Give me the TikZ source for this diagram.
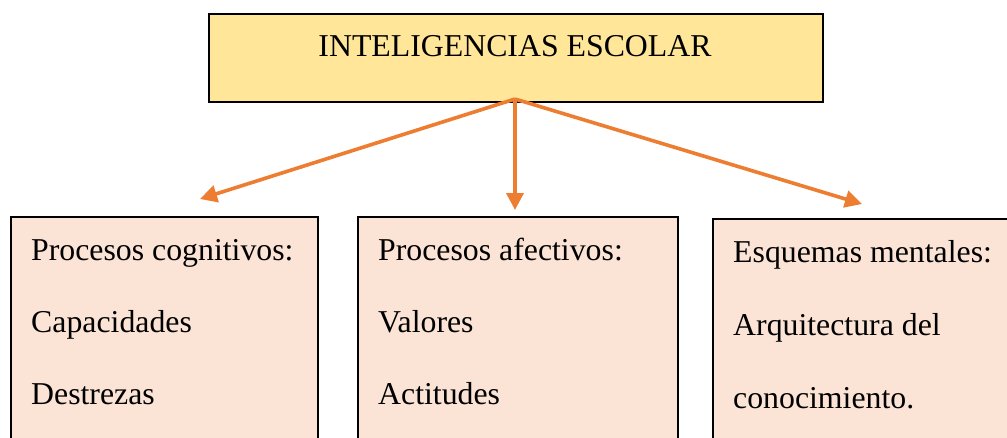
\documentclass[tikz,border=0pt]{standalone}
\usepackage{fontspec}
\setmainfont{Liberation Serif}
\usetikzlibrary{arrows.meta}
\definecolor{topfill}{HTML}{FFE699}
\definecolor{boxfill}{HTML}{FBE4D5}
\definecolor{arr}{HTML}{ED7D31}
\begin{document}
\begin{tikzpicture}[x=1pt,y=-1pt,
  box/.style={draw=black, line width=1.5pt, fill=boxfill, anchor=north west, inner sep=0pt, minimum height=260pt},
  txt/.style={anchor=base west, inner sep=0pt, font=\fontsize{31.8}{38}\selectfont},
  arrowline/.style={draw=arr, line width=3.6pt, -{Triangle[length=17pt,width=17pt]}}]
\useasboundingbox (0,0) rectangle (1007,437);
\clip (0,0) rectangle (1007,437);
\node[draw=black, line width=2pt, fill=topfill, minimum width=614pt, minimum height=88pt, anchor=north west, inner sep=0pt] (top) at (208,13) {};
\node[anchor=base, inner sep=0pt, font=\fontsize{31.8}{38}\selectfont] (toptxt) at (515,56) {INTELIGENCIAS ESCOLAR};

\node[box, minimum width=307pt] (b1) at (10,216) {};
\node[box, minimum width=320pt] (b2) at (357,216) {};
\node[box, minimum width=340pt] (b3) at (712,218) {};

\node[txt] (t11) at (31,260) {Procesos cognitivos:};
\node[txt] (t12) at (31,332) {Capacidades};
\node[txt] (t13) at (31,404) {Destrezas};

\node[txt] (t21) at (378,260) {Procesos afectivos:};
\node[txt] (t22) at (378,332) {Valores};
\node[txt] (t23) at (378,404) {Actitudes};

\node[txt] (t31) at (733,262) {Esquemas mentales:};
\node[txt] (t32) at (733,335) {Arquitectura del};
\node[txt] (t33) at (733,408) {conocimiento.};

\coordinate (e1) at (200,199);
\coordinate (e2) at (515,210);
\coordinate (e3) at (862,204);
\coordinate (s) at (515,99);
\draw[arrowline] (s) -- (e1);
\draw[arrowline] (s) -- (e2);
\draw[arrowline] (s) -- (e3);
\end{tikzpicture}
\end{document}
